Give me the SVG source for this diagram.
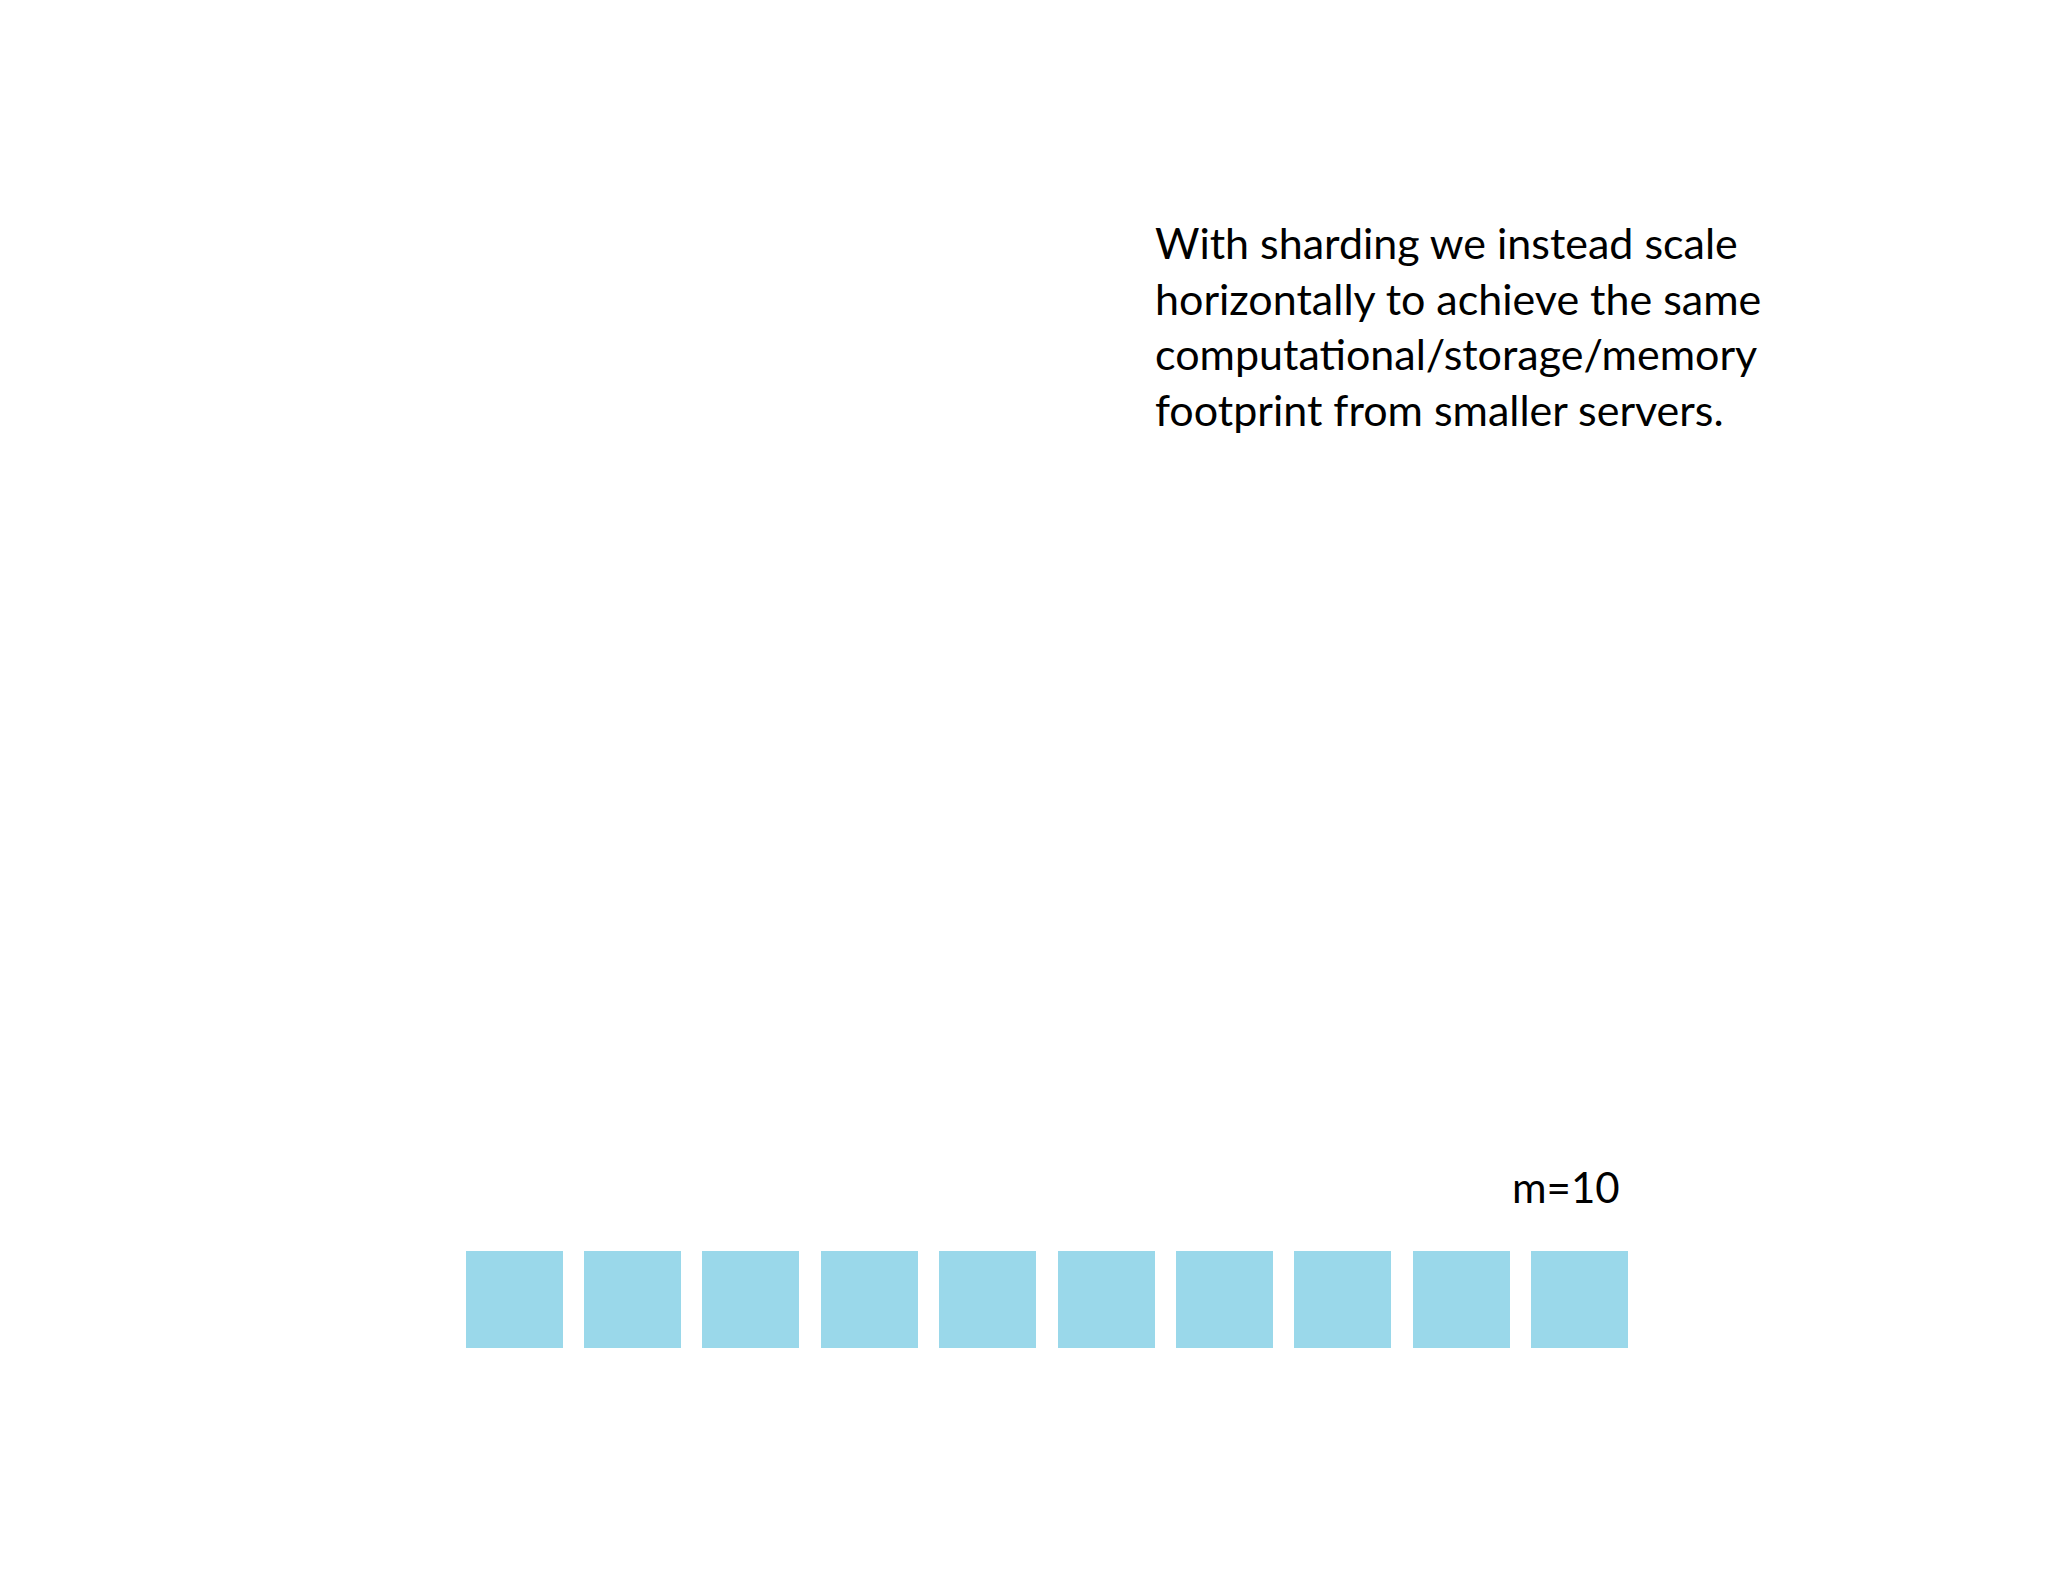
<svg xmlns="http://www.w3.org/2000/svg" width="2048" height="1582" viewBox="0 0 2048 1582">
<style>
.t{font-family:Lato,"Open Sans","Liberation Sans",sans-serif;fill:#000}
.s{fill:#9AD8EA}
</style>
<rect width="2048" height="1582" fill="#ffffff"/>
<g id="caption">
<text class="t" font-size="43" x="1155" y="259">With sharding we instead scale</text>
<text class="t" font-size="43" x="1155" y="315">horizontally to achieve the same</text>
<text class="t" font-size="43" x="1155" y="370">computational/storage/memory</text>
<text class="t" font-size="43" x="1155" y="426">footprint from smaller servers.</text>
</g>
<g id="label-m">
<text class="t" font-size="42" x="1512" y="1203">m=10</text>
</g>
<g id="servers">
<rect id="s1" class="s" x="466" y="1251" width="97" height="97"/>
<rect id="s2" class="s" x="584" y="1251" width="97" height="97"/>
<rect id="s3" class="s" x="702" y="1251" width="97" height="97"/>
<rect id="s4" class="s" x="821" y="1251" width="97" height="97"/>
<rect id="s5" class="s" x="939" y="1251" width="97" height="97"/>
<rect id="s6" class="s" x="1058" y="1251" width="97" height="97"/>
<rect id="s7" class="s" x="1176" y="1251" width="97" height="97"/>
<rect id="s8" class="s" x="1294" y="1251" width="97" height="97"/>
<rect id="s9" class="s" x="1413" y="1251" width="97" height="97"/>
<rect id="s10" class="s" x="1531" y="1251" width="97" height="97"/>
</g>
<g id="connectors"/>
</svg>
